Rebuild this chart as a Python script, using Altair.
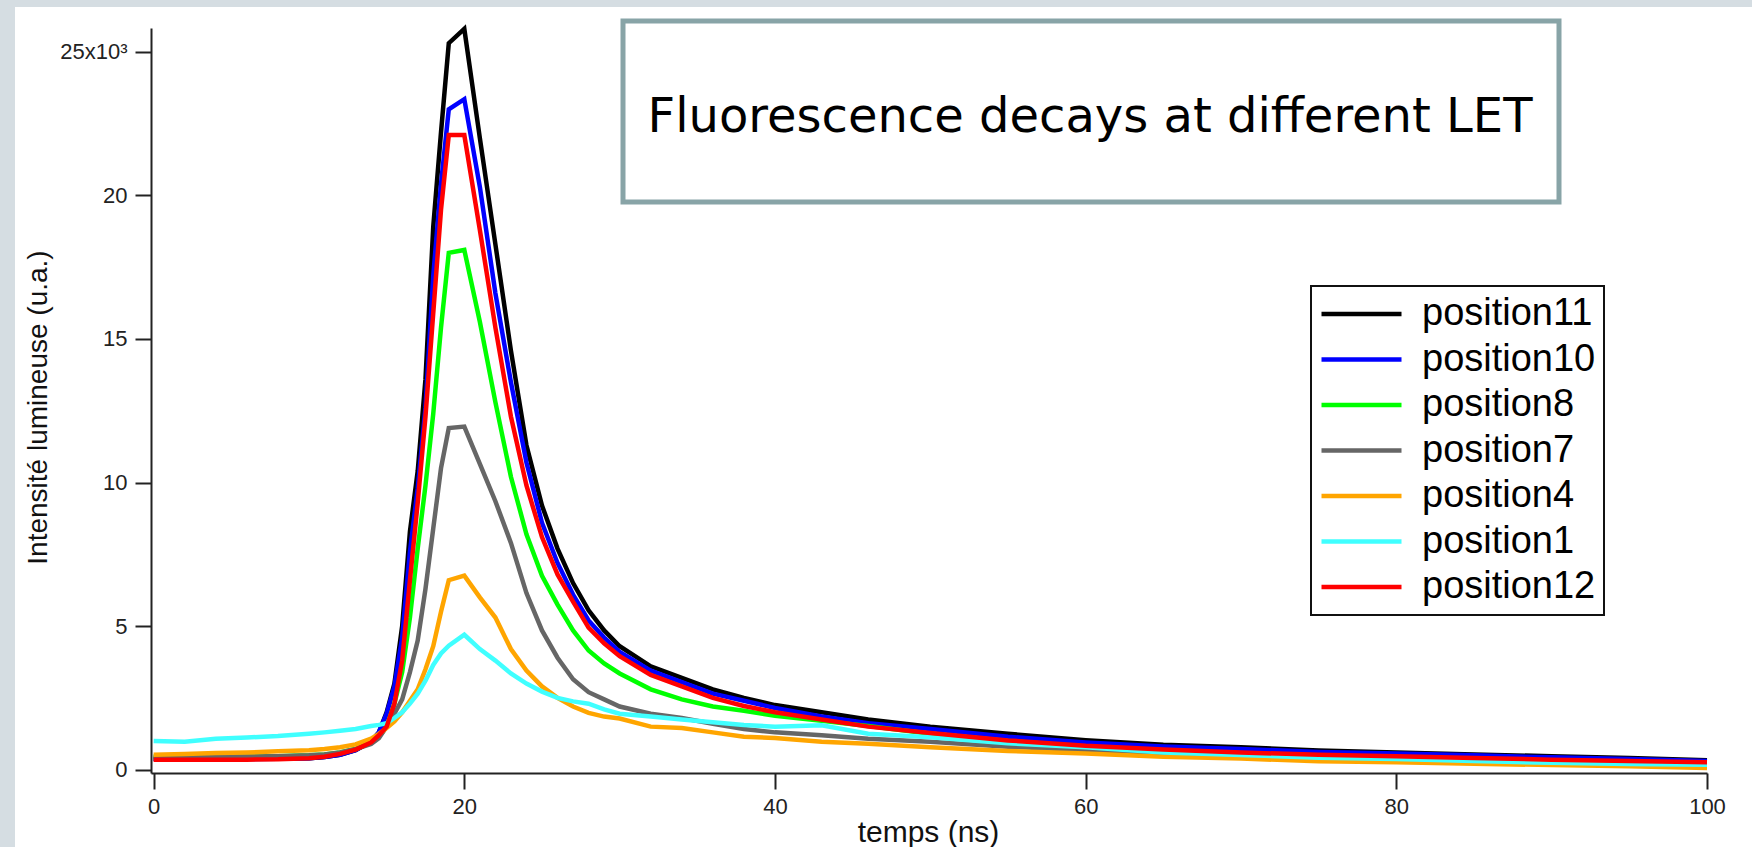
import altair as alt
import pandas as pd

# ---------------- data ----------------
time_ns = [0, 2, 4, 6, 8, 10, 11, 12, 13, 14, 14.5, 15, 15.5, 16, 16.5, 17, 17.5, 18, 18.5, 19,
           20, 21, 22, 23, 24, 25, 26, 27, 28, 29, 30, 32, 34, 36, 38, 40, 43, 46,
           50, 55, 60, 65, 70, 75, 80, 85, 90, 95, 100]

series_names = ["position11", "position10", "position8", "position7",
                "position4", "position1", "position12"]
series_colors = ["#000000", "#0000ff", "#00ff00", "#666666",
                 "#ffa500", "#40ffff", "#ff0000"]

position11 = [0.38, 0.38, 0.38, 0.38, 0.39, 0.40, 0.44, 0.52, 0.68, 0.98, 1.30, 2.00, 3.00, 5.00, 8.30,
              10.4, 13.6, 18.9, 22.2, 25.3, 25.8, 22.0, 18.3, 14.6, 11.3, 9.20, 7.70, 6.50, 5.55, 4.85,
              4.30, 3.60, 3.20, 2.80, 2.50, 2.25, 2.00, 1.75, 1.50, 1.25, 1.03, 0.87, 0.78, 0.67, 0.60,
              0.53, 0.47, 0.41, 0.33]
position10 = [0.37, 0.37, 0.37, 0.37, 0.38, 0.40, 0.44, 0.52, 0.68, 0.98, 1.30, 1.95, 2.90, 4.60, 7.60,
              9.80, 12.6, 17.2, 20.4, 23.0, 23.35, 20.3, 16.6, 13.5, 10.7, 8.60, 7.20, 6.10, 5.20, 4.60,
              4.10, 3.45, 3.05, 2.65, 2.40, 2.15, 1.85, 1.62, 1.42, 1.15, 0.95, 0.81, 0.72, 0.62, 0.56,
              0.50, 0.43, 0.37, 0.30]
position8 = [0.45, 0.45, 0.45, 0.46, 0.47, 0.50, 0.53, 0.60, 0.72, 0.95, 1.15, 1.50, 2.30, 3.40, 5.30,
             7.70, 9.90, 12.4, 15.4, 18.0, 18.1, 15.6, 12.8, 10.2, 8.20, 6.75, 5.75, 4.85, 4.15, 3.70,
             3.35, 2.80, 2.45, 2.20, 2.05, 1.88, 1.70, 1.52, 1.25, 1.00, 0.80, 0.66, 0.56, 0.48, 0.43,
             0.37, 0.30, 0.25, 0.22]
position7 = [0.45, 0.45, 0.45, 0.46, 0.47, 0.50, 0.53, 0.60, 0.72, 0.90, 1.10, 1.50, 1.95, 2.45, 3.40,
             4.50, 6.30, 8.40, 10.5, 11.9, 11.95, 10.65, 9.35, 7.90, 6.15, 4.85, 3.90, 3.15, 2.70, 2.45,
             2.20, 1.95, 1.80, 1.60, 1.42, 1.30, 1.20, 1.08, 0.97, 0.80, 0.68, 0.57, 0.48, 0.40, 0.34,
             0.30, 0.25, 0.22, 0.18]
position4 = [0.52, 0.55, 0.58, 0.60, 0.64, 0.68, 0.72, 0.78, 0.88, 1.08, 1.25, 1.45, 1.68, 2.00, 2.40,
             2.80, 3.50, 4.30, 5.50, 6.60, 6.76, 6.00, 5.30, 4.20, 3.45, 2.90, 2.50, 2.20, 1.98, 1.85,
             1.78, 1.50, 1.45, 1.30, 1.15, 1.10, 0.97, 0.90, 0.78, 0.65, 0.56, 0.45, 0.39, 0.29, 0.26,
             0.21, 0.16, 0.12, 0.06]
position1 = [1.00, 0.97, 1.08, 1.12, 1.17, 1.25, 1.30, 1.36, 1.42, 1.52, 1.56, 1.62, 1.80, 2.00, 2.30,
             2.65, 3.10, 3.65, 4.05, 4.32, 4.70, 4.20, 3.80, 3.35, 3.00, 2.72, 2.50, 2.38, 2.30, 2.10,
             1.95, 1.85, 1.75, 1.65, 1.56, 1.50, 1.55, 1.25, 1.13, 0.92, 0.78, 0.60, 0.51, 0.42, 0.37,
             0.30, 0.24, 0.20, 0.17]
position12 = [0.35, 0.35, 0.35, 0.35, 0.36, 0.40, 0.45, 0.55, 0.70, 0.95, 1.20, 1.50, 2.30, 3.80, 6.60,
              9.30, 12.3, 15.9, 19.5, 22.1, 22.1, 18.8, 15.4, 12.3, 9.90, 8.10, 6.80, 5.85, 4.95, 4.40,
              3.95, 3.30, 2.90, 2.50, 2.22, 2.00, 1.75, 1.50, 1.28, 1.02, 0.83, 0.70, 0.60, 0.52, 0.47,
              0.41, 0.35, 0.30, 0.26]

x_ticks = [0, 20, 40, 60, 80, 100]
y_ticks = [0, 5, 10, 15, 20, 25]
x_title = "temps (ns)"
y_title = "Intensité lumineuse (u.a.)"
box_title = "Fluorescence decays at different LET"

series_values = [position11, position10, position8, position7, position4, position1, position12]
rows = []
for name, vals in zip(series_names, series_values):
    for t, v in zip(time_ns, vals):
        rows.append({"temps": t, "intensite": v, "serie": name})
df = pd.DataFrame(rows)

# ---------------- layout ----------------
W, H = 1556, 745
PAD_L, PAD_T, PAD_R, PAD_B = 151, 28, 45, 74

TICK_FONT = "Liberation Sans Narrow, Liberation Sans, Arial"
TEXT_FONT = "Liberation Sans, Arial"

x_scale = alt.Scale(domain=[-0.17, 100], nice=False, zero=False)
y_scale = alt.Scale(domain=[-0.115, 25.83], nice=False, zero=False)
color_scale = alt.Scale(domain=series_names, range=series_colors)

x_axis = alt.Axis(values=x_ticks, title=x_title, grid=False, zindex=2,
                  domainColor="#222222", domainWidth=2, tickColor="#222222", tickWidth=2,
                  tickSize=16, labelFont=TICK_FONT, labelFontSize=22, labelColor="#222222",
                  labelPadding=7, labelFlush=False, titleFont=TEXT_FONT, titleFontSize=30,
                  titleFontWeight="normal", titleColor="#111111", titleX=777, titleY=59,
                  titleBaseline="middle", titleAlign="center")
y_axis = alt.Axis(values=y_ticks, title=y_title, grid=False, zindex=2,
                  labelExpr="datum.value == 25 ? '25x10³' : datum.label",
                  domainColor="#222222", domainWidth=2, tickColor="#222222", tickWidth=2,
                  tickSize=16, labelFont=TICK_FONT, labelFontSize=22, labelColor="#222222",
                  labelPadding=8, titleFont=TEXT_FONT, titleFontSize=28,
                  titleFontWeight="normal", titleColor="#111111", titleAngle=270,
                  titleX=-113, titleY=379, titleBaseline="middle", titleAlign="center")
legend = alt.Legend(title=None, orient="none", legendX=1160, legendY=258,
                    symbolType="stroke", symbolSize=6400, symbolStrokeWidth=4.5,
                    labelFont=TEXT_FONT, labelFontSize=38, labelColor="#000000",
                    labelLimit=400, labelOffset=18, padding=8, rowPadding=5.5,
                    clipHeight=40,
                    strokeColor="#111111", fillColor="#ffffff", zindex=3)

one_row = alt.Data(values=[{"label": box_title}])

background_panel = alt.Chart(one_row).mark_rect(fill="#ffffff").encode(
    x=alt.value(15 - PAD_L), x2=alt.value(W + PAD_R),
    y=alt.value(7 - PAD_T), y2=alt.value(H + PAD_B))

line_layers = []
for name in series_names:
    line_layers.append(
        alt.Chart(df).transform_filter(alt.datum.serie == name)
        .mark_line(strokeWidth=4.5, strokeJoin="miter")
        .encode(x=alt.X("temps:Q", scale=x_scale, axis=x_axis),
                y=alt.Y("intensite:Q", scale=y_scale, axis=y_axis),
                color=alt.Color("serie:N", scale=color_scale, legend=legend))
    )

title_box = alt.Chart(one_row).mark_rect(fill="#ffffff", stroke="#88a4a7", strokeWidth=5).encode(
    x=alt.value(472), x2=alt.value(1408), y=alt.value(-7), y2=alt.value(174))
title_text = alt.Chart(one_row).mark_text(font="DejaVu Sans", fontSize=48, align="center",
                                         baseline="alphabetic", color="#000000").encode(
    x=alt.value(939), y=alt.value(104), text="label:N")

chart = alt.layer(background_panel, *line_layers, title_box, title_text).properties(
    width=W, height=H,
    autosize=alt.AutoSizeParams(type="none"),
    padding={"left": PAD_L, "top": PAD_T, "right": PAD_R, "bottom": PAD_B},
    background="#d5dde2",
).configure_view(stroke="transparent").configure_legend(strokeWidth=2)

chart.save("out.html", embed_options={"renderer": "svg", "actions": False})
